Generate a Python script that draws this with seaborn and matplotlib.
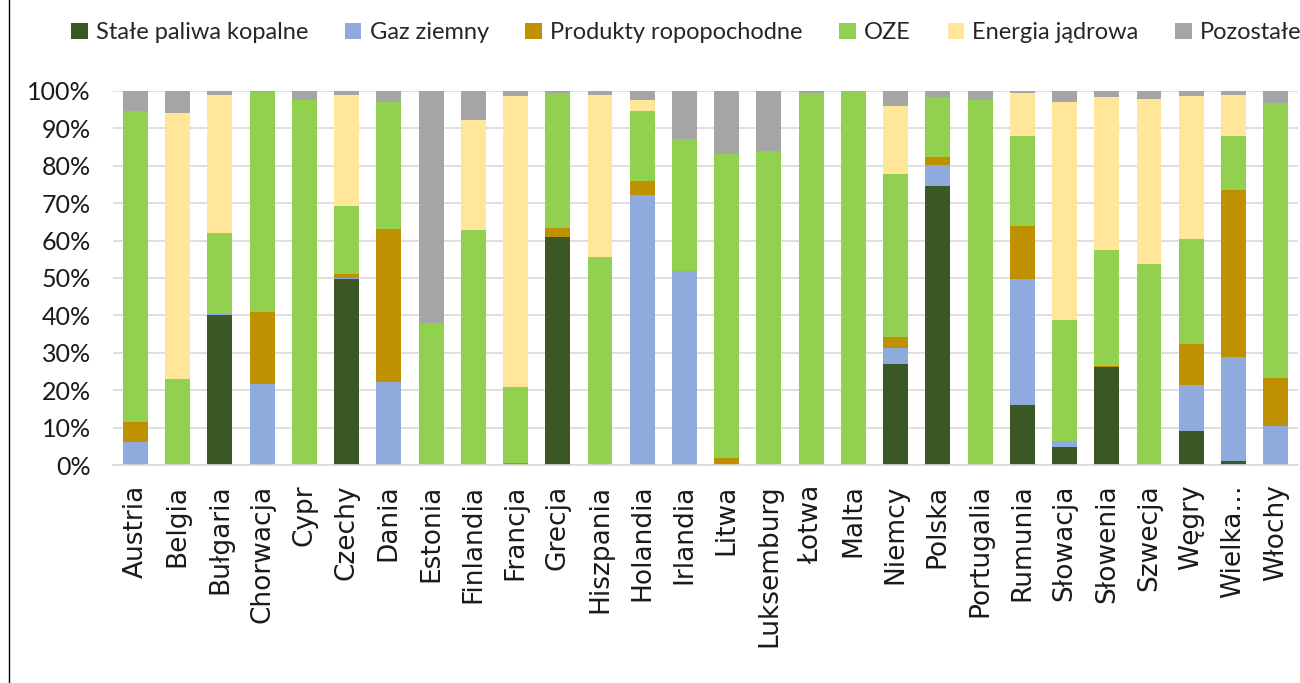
import numpy as np
import pandas as pd
import matplotlib
matplotlib.use("Agg")
import matplotlib.pyplot as plt
from matplotlib.patches import Patch
from matplotlib.lines import Line2D
import seaborn as sns

# ---- data (share of energy mix, %) ---------------------------------------
countries = ["Austria", "Belgia", "Bułgaria", "Chorwacja", "Cypr", "Czechy", "Dania",
             "Estonia", "Finlandia", "Francja", "Grecja", "Hiszpania", "Holandia",
             "Irlandia", "Litwa", "Luksemburg", "Łotwa", "Malta", "Niemcy", "Polska",
             "Portugalia", "Rumunia", "Słowacja", "Słowenia", "Szwecja", "Węgry",
             "Wielka…", "Włochy"]

stale = [0, 0, 40.0, 0, 0, 49.6, 0, 0, 0, 0, 61.0, 0, 0, 0, 0, 0, 0, 0,
         27.0, 74.7, 0, 16.0, 4.9, 26.2, 0, 9.1, 1.2, 0]
gaz = [6.1, 0, 0.3, 21.7, 0, 0.5, 22.1, 0, 0, 0, 0, 0.3, 72.3, 51.8, 0, 0, 0, 0,
       4.2, 5.6, 0, 33.8, 1.5, 0, 0, 12.2, 27.7, 10.5]
ropa = [5.3, 0, 0, 19.1, 0, 1.0, 41.1, 0, 0, 0.7, 2.3, 0, 3.6, 0, 2.0, 0, 0, 0,
        3.0, 1.9, 0, 14.1, 0, 0.4, 0, 11.0, 44.6, 12.7]
oze = [83.1, 22.9, 21.8, 58.8, 97.6, 18.2, 33.9, 38.0, 62.8, 20.3, 36.2, 55.3, 18.6,
       35.3, 81.0, 83.8, 99.5, 100.0, 43.5, 16.1, 97.5, 24.1, 32.4, 30.9, 53.8,
       28.2, 14.5, 73.5]
jadrowa = [0, 71.2, 36.9, 0, 0, 29.5, 0, 0, 29.3, 77.7, 0, 43.4, 3.0, 0, 0, 0, 0, 0,
           18.3, 0, 0, 11.5, 58.3, 40.8, 44.1, 38.2, 11.0, 0]
pozostale = [5.5, 5.9, 1.0, 0.4, 2.4, 1.2, 2.9, 62.0, 7.9, 1.3, 0.5, 1.0, 2.5, 12.9,
             17.0, 16.2, 0.5, 0, 4.0, 1.7, 2.5, 0.5, 2.9, 1.7, 2.1, 1.3, 1.0, 3.3]

series = ["Stałe paliwa kopalne", "Gaz ziemny", "Produkty ropopochodne",
          "OZE", "Energia jądrowa", "Pozostałe"]
colors = ["#3B5723", "#8FAADC", "#BF9000", "#92D050", "#FFE699", "#A5A5A5"]

df = pd.DataFrame({"Kraj": countries, series[0]: stale, series[1]: gaz,
                   series[2]: ropa, series[3]: oze, series[4]: jadrowa,
                   series[5]: pozostale})
long = df.melt(id_vars="Kraj", var_name="Nosnik", value_name="Udzial")

# ---- plot ------------------------------------------------------------------
sns.set_theme(style="white")
plt.rcParams["font.family"] = ["Lato", "DejaVu Sans"]

fig = plt.figure(figsize=(13, 6.83), dpi=100)
ax = fig.add_axes([0.087, 0.319, 0.9115, 0.548])

# seaborn stacks the last hue level at the bottom -> reverse order
sns.histplot(data=long, x="Kraj", weights="Udzial", hue="Nosnik",
             hue_order=series[::-1], palette=colors[::-1], multiple="stack",
             discrete=True, shrink=0.59, linewidth=0, alpha=1,
             legend=False, ax=ax)

ax.set_ylim(0, 100)
ax.set_xlim(-0.53, len(countries) - 0.47)
ax.set_yticks(np.arange(0, 101, 10))
ax.set_yticklabels([f"{v}%" for v in range(0, 101, 10)], fontsize=18)
ax.set_xticks(range(len(countries)))
ax.set_xticklabels(countries, rotation=90, fontsize=19,
                   family=["DejaVu Sans"])
ax.set_xlabel("")
ax.set_ylabel("")
ax.yaxis.grid(True, color="#D9D9D9", linewidth=1.2)
ax.set_axisbelow(True)
ax.tick_params(axis="y", length=0, pad=16, colors="#1a1a1a")
ax.tick_params(axis="x", length=0, pad=14, colors="#1a1a1a")
for s in ["top", "right", "left"]:
    ax.spines[s].set_visible(False)
ax.spines["bottom"].set_color("#D9D9D9")
ax.spines["bottom"].set_linewidth(1.2)

handles = [Patch(facecolor=c, edgecolor="none", label=s) for s, c in zip(series, colors)]
fig.legend(handles=handles, loc="center", bbox_to_anchor=(0.528, 0.952), ncol=6,
           frameon=False, fontsize=17, handlelength=0.7, handleheight=0.7,
           handletextpad=0.35, columnspacing=1.55)

# page border line on the left
fig.add_artist(Line2D([0.007, 0.007], [0, 1], transform=fig.transFigure,
                      color="black", linewidth=1))

fig.savefig("out.png", dpi=100)
